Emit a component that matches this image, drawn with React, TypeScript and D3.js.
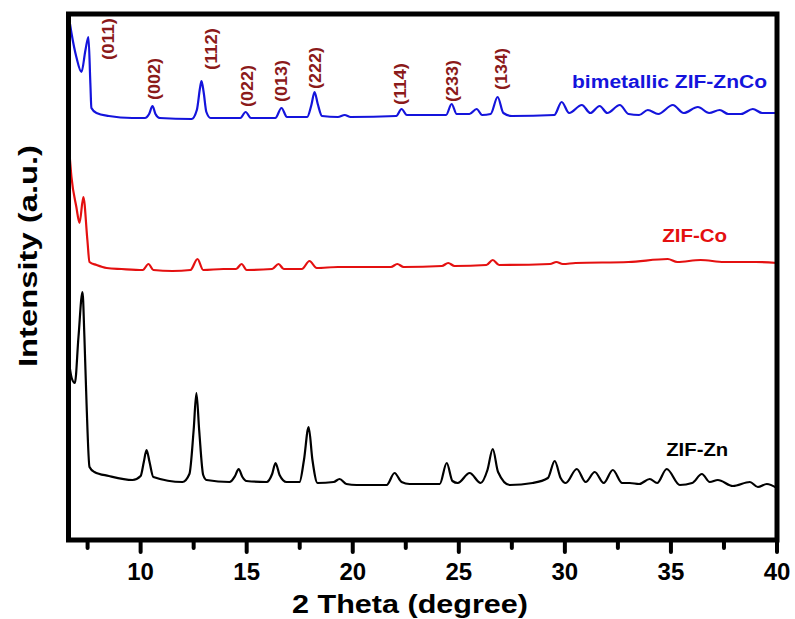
import React from 'react';
import * as d3 from 'd3';

// 2-theta (degree) vs. intensity (a.u.)
const zincCobalt: [number, number][] = [
  [6.6, 526], [6.74, 507], [6.97, 483], [7.21, 468], [7.4, 490], [7.54, 503], [7.63, 457],
  [7.68, 432], [7.92, 427], [8.5, 424], [9.6, 422], [10.2, 422], [10.4, 426], [10.56, 434],
  [10.7, 426], [10.9, 422], [12.4, 421], [12.65, 430], [12.8, 452], [12.87, 459], [12.97, 448],
  [13.1, 428], [13.3, 422], [14.7, 422], [14.95, 428], [15.2, 422], [16.35, 422], [16.64, 432],
  [16.9, 423], [17.85, 423], [18.05, 435], [18.2, 448], [18.35, 436], [18.55, 424], [19.3, 423],
  [19.62, 425], [19.9, 423], [22.05, 424], [22.3, 431], [22.55, 425], [24.4, 425], [24.66, 436],
  [24.9, 426], [25.5, 426], [25.84, 431], [26.1, 425], [26.5, 426], [26.83, 443], [27.1, 427],
  [27.5, 424], [29.5, 425], [29.85, 438], [30.2, 427], [30.8, 435], [31.2, 427], [31.64, 434],
  [32.0, 427], [32.59, 435], [33.0, 426], [33.5, 425], [33.91, 430], [34.4, 426], [35.09, 435],
  [35.6, 427], [36.27, 433], [36.8, 427], [37.3, 430], [37.7, 426], [38.3, 426], [38.86, 431],
  [39.3, 427], [40, 427],
];

const cobalt: [number, number][] = [
  [6.6, 400], [6.74, 363], [6.97, 333], [7.12, 317], [7.3, 343], [7.49, 300], [7.59, 278],
  [7.92, 275], [8.4, 272], [9.1, 271], [10.1, 270], [10.37, 276], [10.6, 270], [11.5, 269],
  [12.35, 270], [12.68, 281], [12.95, 270], [13.9, 271], [14.5, 271], [14.76, 276], [15.0, 270],
  [16.2, 271], [16.5, 276], [16.75, 271], [17.6, 271], [17.96, 279], [18.3, 272], [19.3, 273],
  [21.8, 273], [22.1, 276], [22.4, 273], [24.2, 274], [24.5, 277], [24.8, 274], [26.3, 275],
  [26.6, 280], [26.9, 275], [29.3, 276], [29.6, 278], [29.9, 276], [30.5, 277], [33.0, 278],
  [34.85, 281], [35.3, 278], [36.4, 280], [37.5, 278], [39.0, 278], [40, 277],
];

const zinc: [number, number][] = [
  [6.6, 182], [6.75, 162], [6.9, 157], [7.07, 203], [7.26, 248], [7.35, 203], [7.45, 137],
  [7.59, 73], [7.82, 68], [8.5, 64], [9.62, 60], [10.0, 64], [10.15, 78], [10.28, 90],
  [10.42, 78], [10.6, 63], [11.97, 58], [12.3, 66], [12.5, 110], [12.63, 147], [12.76, 110],
  [12.95, 65], [13.11, 60], [14.19, 58], [14.45, 64], [14.62, 71], [14.8, 63], [14.99, 59],
  [15.94, 58], [16.2, 66], [16.36, 77], [16.55, 65], [16.88, 58], [17.49, 58], [17.7, 80],
  [17.92, 113], [18.1, 80], [18.34, 57], [19.1, 58], [19.38, 61], [19.7, 56], [20.18, 55],
  [21.6, 55], [21.97, 67], [22.3, 58], [22.68, 56], [24.1, 56], [24.43, 77], [24.7, 59],
  [24.95, 57], [25.51, 67], [26.03, 57], [26.35, 70], [26.6, 91], [26.85, 68], [27.4, 55],
  [28.48, 57], [29.2, 62], [29.52, 79], [29.8, 62], [30.04, 57], [30.56, 71], [30.98, 58],
  [31.41, 68], [31.83, 57], [32.26, 70], [32.7, 57], [33.06, 57], [33.5, 56], [34.0, 61],
  [34.35, 57], [34.8, 71], [35.42, 55], [36.0, 57], [36.46, 66], [36.83, 58], [37.21, 60],
  [37.92, 54], [38.72, 58], [39.1, 53], [39.52, 56], [40, 52],
];

const millerLabels = ['(011)', '(002)', '(112)', '(022)', '(013)', '(222)', '(114)', '(233)', '(134)'];
const millerTheta = [8.46, 10.63, 13.32, 15.02, 16.62, 18.22, 22.23, 24.68, 26.99];
const millerLevel = [501, 461, 491, 454, 459, 472, 456, 459, 471];

const sampleNames = ['bimetallic ZIF-ZnCo', 'ZIF-Co', 'ZIF-Zn'];
const sampleColors = ['#1414dc', '#e41010', '#000000'];
const sampleLabelTheta = [39.53, 37.65, 37.7];
const sampleLabelLevel = [452, 298, 84];
const sampleLabelLength = [195, 65, 62];

const majorTicks = [10, 15, 20, 25, 30, 35, 40];
const minorTicks = [7.5, 12.5, 17.5, 22.5, 27.5, 32.5, 37.5];

const W = 795;
const H = 619;
const left = 68.5, right = 777, top = 14, bottom = 540;
const font = '"Liberation Sans", Arial, sans-serif';

export default function App() {
  const x = d3.scaleLinear().domain([6.6, 40]).range([left, right]);
  const y = d3.scaleLinear().domain([0, 526]).range([bottom, top]);
  const line = d3.line<[number, number]>()
    .x(d => x(d[0]))
    .y(d => y(d[1]))
    .curve(d3.curveMonotoneX);

  const series = [zincCobalt, cobalt, zinc];

  return (
    <svg width={W} height={H} style={{ position: 'absolute', left: 0, top: 0, background: '#fff' }}
      fontFamily={font} fontWeight="bold">
      <defs>
        <clipPath id="plot">
          <rect x={left} y={top} width={right - left} height={bottom - top} />
        </clipPath>
      </defs>
      <rect x={0} y={0} width={W} height={H} fill="#fff" />

      <g clipPath="url(#plot)">
        {series.map((s, i) => (
          <path key={i} d={line(s) || ''} fill="none" stroke={sampleColors[i]}
            strokeWidth={2.2} strokeLinejoin="round" />
        ))}
      </g>

      {millerLabels.map((t, i) => (
        <text key={t} transform={`translate(${x(millerTheta[i]) + 6},${y(millerLevel[i])}) rotate(-90)`}
          textAnchor="middle" fontSize={17} fill="#8b1a1a"
          textLength={42} lengthAdjust="spacingAndGlyphs">{t}</text>
      ))}

      {sampleNames.map((t, i) => (
        <text key={t} x={x(sampleLabelTheta[i]) - sampleLabelLength[i]} y={y(sampleLabelLevel[i])}
          fontSize={18} fill={sampleColors[i]}
          textLength={sampleLabelLength[i]} lengthAdjust="spacingAndGlyphs">{t}</text>
      ))}

      {/* frame */}
      <rect x={left} y={top} width={right - left} height={bottom - top}
        fill="none" stroke="#000" strokeWidth={5} />

      {majorTicks.map(t => (
        <g key={t}>
          <line x1={x(t)} x2={x(t)} y1={bottom} y2={bottom + 12} stroke="#000"
            strokeWidth={4} strokeLinecap="round" />
          <text x={x(t)} y={580} textAnchor="middle" fontSize={24} fill="#000">{t}</text>
        </g>
      ))}
      {minorTicks.map(t => (
        <line key={t} x1={x(t)} x2={x(t)} y1={bottom} y2={bottom + 8} stroke="#000"
          strokeWidth={4} strokeLinecap="round" />
      ))}

      <text x={292} y={613} fontSize={25} fill="#000"
        textLength={236} lengthAdjust="spacingAndGlyphs">2 Theta (degree)</text>
      <text transform="translate(37,256) rotate(-90)" textAnchor="middle" fontSize={25} fill="#000"
        textLength={222} lengthAdjust="spacingAndGlyphs">Intensity (a.u.)</text>
    </svg>
  );
}
